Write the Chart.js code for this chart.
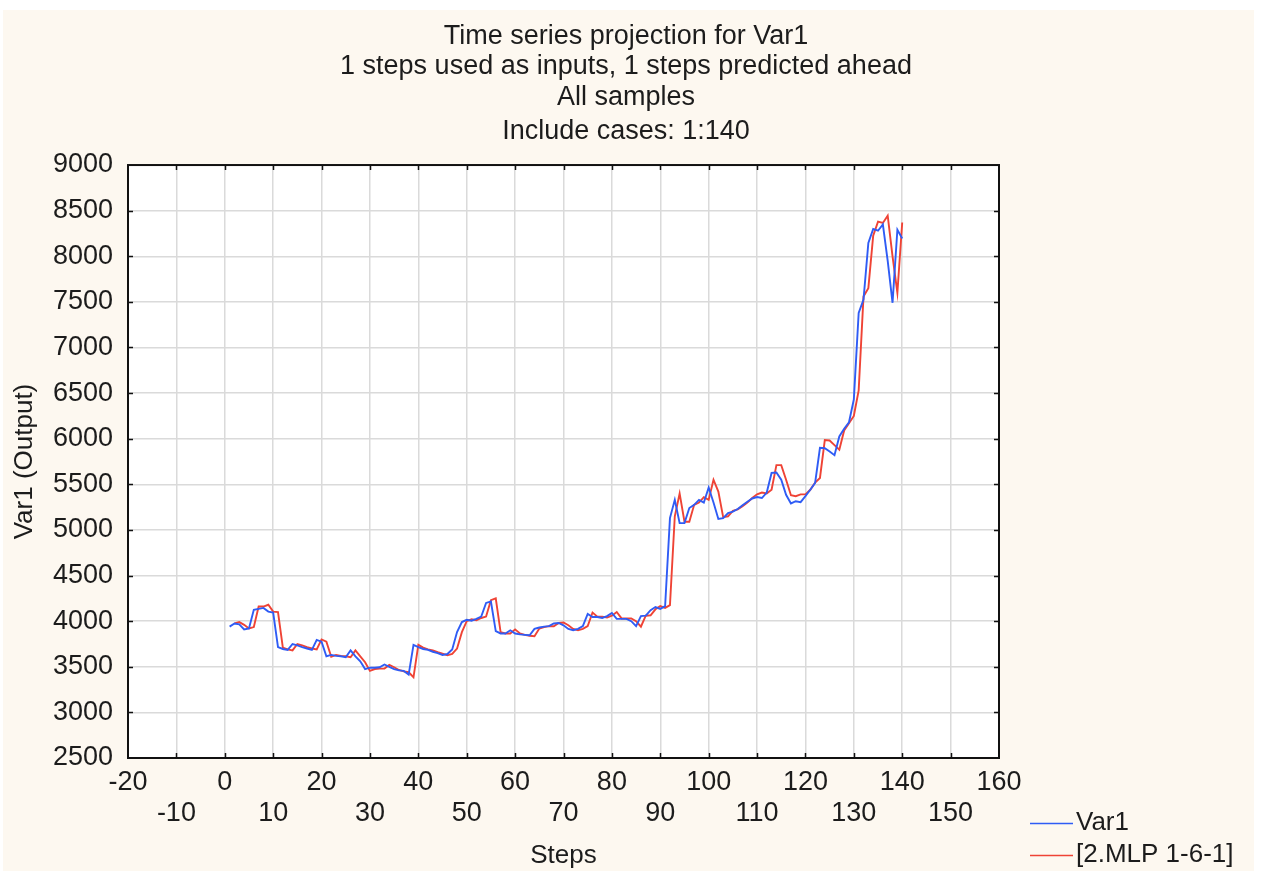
<!DOCTYPE html>
<html>
<head>
<meta charset="utf-8">
<title>Time series projection for Var1</title>
<script src="https://cdn.jsdelivr.net/npm/chart.js@4.4.1/dist/chart.umd.min.js"></script>
<style>
  body { margin: 0; background: #ffffff; }
  canvas { display: block; }
</style>
</head>
<body>
<canvas id="grafico" width="1262" height="871"></canvas>
<script>
// valores (Var1, passos 1 ate 140)
var var1Valores = [
  3940, 3975, 3965, 3910, 3920, 4125, 4135, 4145, 4105, 4095,
  3715, 3695, 3685, 3750, 3735, 3715, 3700, 3685, 3795, 3775,
  3615, 3630, 3620, 3615, 3605, 3680, 3615, 3560, 3475, 3490,
  3490, 3495, 3525, 3500, 3475, 3460, 3455, 3415, 3740, 3715,
  3695, 3685, 3665, 3650, 3630, 3640, 3690, 3880, 3990, 4015,
  4005, 4025, 4050, 4200, 4215, 3890, 3865, 3865, 3900, 3865,
  3855, 3850, 3845, 3915, 3930, 3940, 3945, 3975, 3980, 3955,
  3915, 3900, 3915, 3945, 4080, 4045, 4045, 4035, 4055, 4090,
  4025, 4025, 4025, 4000, 3945, 4055, 4060, 4120, 4155, 4135,
  4165, 5130, 5330, 5075, 5075, 5240, 5275, 5330, 5300, 5465,
  5300, 5120, 5130, 5185, 5200, 5230, 5270, 5310, 5345, 5360,
  5350, 5410, 5625, 5630, 5550, 5385, 5290, 5315, 5305, 5370,
  5440, 5515, 5900, 5895, 5860, 5820, 6025, 6110, 6180, 6430,
  7380, 7525, 8145, 8300, 8280, 8350, 7950, 7490, 8290, 8195
];

// previsao da rede (comeca no passo 2)
var mlpPrimeiroPasso = 2;
var mlpValores = [
  3975, 3990, 3960, 3920, 3935, 4160, 4160, 4180, 4105,
  4100, 3710, 3690, 3680, 3750, 3735, 3715, 3700, 3690, 3800,
  3775, 3610, 3630, 3620, 3615, 3605, 3680, 3615, 3550, 3455,
  3475, 3480, 3480, 3520, 3495, 3465, 3450, 3440, 3385, 3740,
  3710, 3690, 3680, 3660, 3645, 3625, 3640, 3700, 3880, 4000,
  4020, 4010, 4035, 4050, 4230, 4250, 3880, 3865, 3865, 3910,
  3865, 3850, 3840, 3835, 3920, 3935, 3945, 3945, 3980, 3985,
  3955, 3915, 3900, 3915, 3945, 4095, 4050, 4050, 4040, 4060,
  4100, 4030, 4030, 4030, 4000, 3940, 4060, 4065, 4130, 4165,
  4145, 4175, 5150, 5400, 5090, 5090, 5275, 5300, 5360, 5330,
  5550, 5420, 5140, 5150, 5210, 5225, 5260, 5300, 5350, 5390,
  5410, 5400, 5440, 5710, 5710, 5550, 5380, 5370, 5390, 5390,
  5440, 5520, 5570, 5985, 5980, 5930, 5880, 6090, 6170, 6250,
  6530, 7560, 7650, 8225, 8380, 8365, 8445, 8000, 7600, 8370
];

// textos
var linhasDoTitulo = [
  'Time series projection for Var1',
  '1 steps used as inputs, 1 steps predicted ahead',
  'All samples'
];
var subtitulo = 'Include cases: 1:140';
var nomesDasSeries = ['Var1', '[2.MLP 1-6-1]'];
var coresDasSeries = ['#2f5cf5', '#ef4335'];

// eixos
var eixoX = { min: -20, max: 160, passo: 10, titulo: 'Steps' };
var eixoY = { min: 2500, max: 9000, passo: 500, titulo: 'Var1 (Output)' };

// monta os pontos {x, y}
function montaPontos(valores, primeiroPasso) {
  var pontos = [];
  for (var i = 0; i < valores.length; i++) {
    pontos.push({ x: primeiroPasso + i, y: valores[i] });
  }
  return pontos;
}

var fonte = "'Liberation Sans', Arial, sans-serif";
var corTexto = '#1c1c1c';
Chart.defaults.font.family = fonte;
Chart.defaults.color = corTexto;

// pinta o fundo creme e a area branca
var pluginFundo = {
  id: 'fundo',
  beforeDraw: function(chart) {
    var ctx = chart.ctx;
    var area = chart.chartArea;
    ctx.save();
    ctx.fillStyle = '#ffffff';
    ctx.fillRect(0, 0, chart.width, chart.height);
    ctx.fillStyle = '#fdf8f0';
    ctx.fillRect(3, 10, 1251, chart.height - 10);
    ctx.fillStyle = '#ffffff';
    ctx.fillRect(area.left, area.top, area.right - area.left, area.bottom - area.top);
    ctx.restore();
  }
};

// moldura preta e tracinhos para dentro
var pluginMoldura = {
  id: 'moldura',
  beforeDatasetsDraw: function(chart) {
    var ctx = chart.ctx;
    var area = chart.chartArea;
    var sx = chart.scales.x;
    var sy = chart.scales.y;
    var tam = 5;
    ctx.save();
    ctx.strokeStyle = '#111111';
    ctx.lineWidth = 1.5;
    ctx.beginPath();
    for (var v = eixoX.min + eixoX.passo; v < eixoX.max; v += eixoX.passo) {
      var px = Math.round(sx.getPixelForValue(v)) + 0.5;
      ctx.moveTo(px, area.bottom);
      ctx.lineTo(px, area.bottom - tam);
      ctx.moveTo(px, area.top);
      ctx.lineTo(px, area.top + tam);
    }
    for (var w = eixoY.min + eixoY.passo; w < eixoY.max; w += eixoY.passo) {
      var py = Math.round(sy.getPixelForValue(w)) + 0.5;
      ctx.moveTo(area.left, py);
      ctx.lineTo(area.left + tam, py);
      ctx.moveTo(area.right, py);
      ctx.lineTo(area.right - tam, py);
    }
    ctx.stroke();
    ctx.lineWidth = 2;
    ctx.strokeRect(area.left, area.top, area.right - area.left, area.bottom - area.top);
    ctx.restore();
  }
};

// legenda desenhada no canto de baixo
var pluginLegenda = {
  id: 'legendaCanto',
  afterDraw: function(chart) {
    var ctx = chart.ctx;
    ctx.save();
    ctx.font = '26px ' + fonte;
    ctx.textBaseline = 'middle';
    ctx.textAlign = 'left';
    for (var i = 0; i < chart.data.datasets.length; i++) {
      var ds = chart.data.datasets[i];
      var y = 823 + i * 32;
      ctx.strokeStyle = ds.borderColor;
      ctx.lineWidth = 1.5;
      ctx.beginPath();
      ctx.moveTo(1030, y + 0.5);
      ctx.lineTo(1073, y + 0.5);
      ctx.stroke();
      ctx.fillStyle = corTexto;
      ctx.fillText(ds.label, 1076, y);
    }
    ctx.restore();
  }
};

var ctx = document.getElementById('grafico').getContext('2d');
var grafico = new Chart(ctx, {
  type: 'line',
  data: {
    datasets: [
      {
        label: nomesDasSeries[0],
        data: montaPontos(var1Valores, 1),
        borderColor: coresDasSeries[0],
        borderWidth: 1.9,
        pointRadius: 0,
        tension: 0,
        fill: false
      },
      {
        label: nomesDasSeries[1],
        data: montaPontos(mlpValores, mlpPrimeiroPasso),
        borderColor: coresDasSeries[1],
        borderWidth: 1.9,
        pointRadius: 0,
        tension: 0,
        fill: false
      }
    ]
  },
  options: {
    responsive: false,
    animation: false,
    layout: {
      padding: { left: 0, right: 10, top: 0, bottom: 0 }
    },
    plugins: {
      legend: { display: false },
      tooltip: { enabled: false },
      title: {
        display: true,
        text: linhasDoTitulo,
        color: corTexto,
        font: { size: 27, weight: 'normal', lineHeight: 1.13 },
        padding: { top: 21, bottom: 4 }
      },
      subtitle: {
        display: true,
        text: subtitulo,
        color: corTexto,
        font: { size: 27, weight: 'normal', lineHeight: 1.13 },
        padding: { top: 0, bottom: 18 }
      }
    },
    scales: {
      x: {
        type: 'linear',
        position: 'bottom',
        min: eixoX.min,
        max: eixoX.max,
        border: { display: false },
        grid: { color: '#dadada', lineWidth: 1.5, drawTicks: false },
        ticks: {
          stepSize: eixoX.passo,
          autoSkip: false,
          maxRotation: 0,
          padding: 9,
          color: corTexto,
          font: { size: 27, lineHeight: 1.15 },
          // alterna as linhas dos rotulos
          callback: function(valor) {
            if (Math.round(valor / 10) % 2 === 0) {
              return String(valor);
            }
            return ['', String(valor)];
          }
        },
        title: {
          display: true,
          text: eixoX.titulo,
          color: corTexto,
          font: { size: 26, lineHeight: 1.2 },
          padding: { top: 0, bottom: 0 }
        },
        afterFit: function(escala) { escala.height = 113; }
      },
      y: {
        type: 'linear',
        position: 'left',
        min: eixoY.min,
        max: eixoY.max,
        border: { display: false },
        grid: { color: '#dadada', lineWidth: 1.5, drawTicks: false },
        ticks: {
          stepSize: eixoY.passo,
          padding: 15,
          color: corTexto,
          font: { size: 27 },
          // sem separador de milhar
          callback: function(valor) { return String(valor); }
        },
        title: {
          display: true,
          text: eixoY.titulo,
          color: corTexto,
          font: { size: 26, lineHeight: 1.2 },
          padding: { top: 9, bottom: 0 }
        },
        afterFit: function(escala) { escala.width = 128; }
      },
      // eixo vazio so pra guardar espaco da legenda
      espaco: {
        type: 'linear',
        position: 'right',
        display: true,
        border: { display: false },
        grid: { display: false, drawTicks: false },
        ticks: { display: false },
        afterFit: function(escala) { escala.width = 253; }
      }
    }
  },
  plugins: [pluginFundo, pluginMoldura, pluginLegenda]
});
</script>
</body>
</html>
